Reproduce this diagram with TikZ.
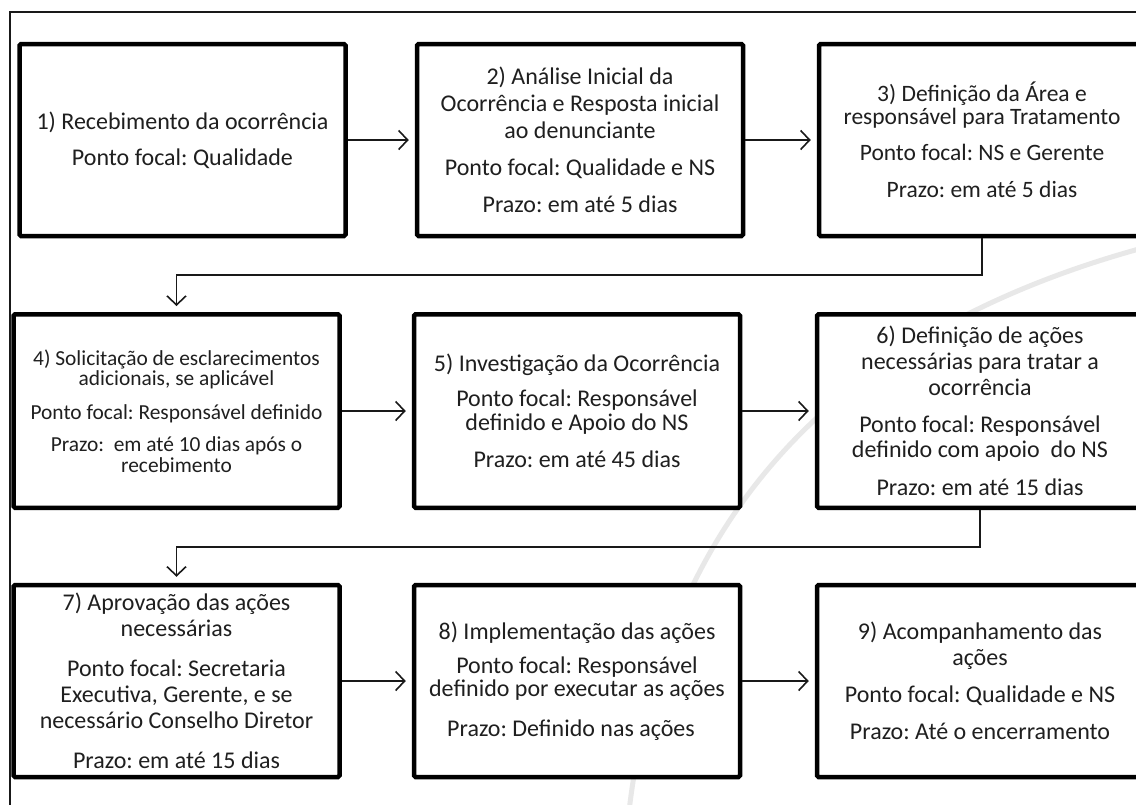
\documentclass[tikz,border=0pt]{standalone}
\usepackage{fontspec}
\setmainfont{Carlito}
\usetikzlibrary{arrows.meta}
\frenchspacing
\tikzset{
  box/.style={draw=black, line width=4.5pt, rounded corners=1.5pt, fill=white,
    align=center, inner sep=0pt, minimum width=326pt, minimum height=192pt, text=black!88},
  conn/.style={draw=black!90, line width=1.6pt,
    -{Straight Barb[length=9pt,width=19pt]}, shorten >=6pt},
  frame/.style={draw=black!90, line width=1.6pt},
  wmark/.style={draw=black!9, line width=5pt, line cap=round}
}
\newcommand{\fs}[2]{\fontsize{#1}{#2}\selectfont\frenchspacing}
\begin{document}
\begin{tikzpicture}[x=1pt,y=-1pt]
\useasboundingbox (0,0) rectangle (1136,804);
\clip (0,0) rectangle (1136,804);
\fill[white] (0,0) rectangle (1136,804);
% watermark arc
\draw[wmark] (1150,246) .. controls (880,318) and (665,480) .. (628,820);
% outer frame
\draw[frame] (10,900) -- (10,12) -- (1200,12);

% row 1
\node[box, font=\fs{24}{29}] (b1) at (182.5,140) {1) Recebimento da ocorrência\\[7pt]Ponto focal: Qualidade};
\node[box, font=\fs{24}{27}] (b2) at (580,140) {2) Análise Inicial da\\Ocorrência e Resposta inicial\\ao denunciante\\[10pt]Ponto focal: Qualidade e NS\\[10pt]Prazo: em até 5 dias};
\node[box, font=\fs{23.5}{22.5}] (b3) at (982,140) {3) Definição da Área e\\responsável para Tratamento\\[14pt]Ponto focal: NS e Gerente\\[14pt]Prazo: em até 5 dias};

% row 2
\node[box, font=\fs{21.4}{20.8}, minimum height=193.5pt] (b4) at (176.5,411) {4) Solicitação de esclarecimentos\\adicionais, se aplicável\\[13pt]Ponto focal: Responsável definido\\[11pt]Prazo:\ \ em até 10 dias após o\\recebimento};
\node[box, font=\fs{24}{23.5}, minimum height=193.5pt] (b5) at (577,411) {5) Investigação da Ocorrência\\[12pt]Ponto focal: Responsável\\definido e Apoio do NS\\[14pt]Prazo: em até 45 dias};
\node[box, font=\fs{24}{25.7}, minimum height=193.5pt] (b6) at (980,411) {6) Definição de ações\\necessárias para tratar a\\ocorrência\\[11pt]Ponto focal: Responsável\\definido com apoio\ \ do NS\\[12pt]Prazo: em até 15 dias};

% row 3
\node[box, font=\fs{24}{26}] (b7) at (176.5,681) {7) Aprovação das ações\\necessárias\\[14pt]Ponto focal: Secretaria\\Executiva, Gerente, e se\\necessário Conselho Diretor\\[14pt]Prazo: em até 15 dias};
\node[box, font=\fs{24}{23.5}] (b8) at (577,681) {8) Implementação das ações\\[10pt]Ponto focal: Responsável\\definido por executar as ações\\[16pt]Prazo: Definido nas ações\hspace*{12pt}};
\node[box, font=\fs{24}{26}] (b9) at (980,681) {9) Acompanhamento das\\ações\\[11pt]Ponto focal: Qualidade e NS\\[11pt]Prazo: Até o encerramento};

% connectors
\draw[conn] (b1) -- (b2);
\draw[conn] (b2) -- (b3);
\draw[conn] (b3.south) -- ++(0,37) -| (b4.north);
\draw[conn] (b4) -- (b5);
\draw[conn] (b5) -- (b6);
\draw[conn] (b6.south) -- ++(0,37) -| (b7.north);
\draw[conn] (b7) -- (b8);
\draw[conn] (b8) -- (b9);
\end{tikzpicture}
\end{document}
